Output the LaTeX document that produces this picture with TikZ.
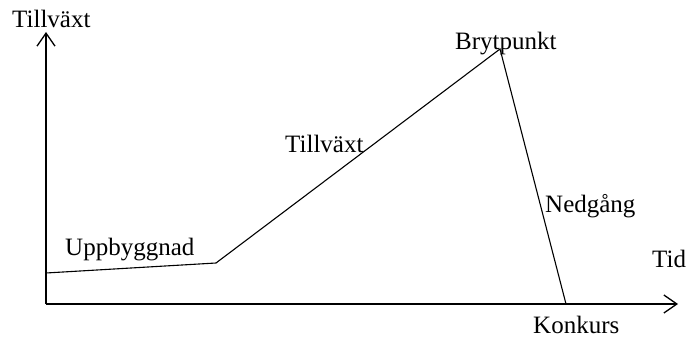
\documentclass[tikz,border=0pt]{standalone}
\usepackage{fontspec}
\setmainfont{Liberation Serif}
\usetikzlibrary{arrows.meta}
\begin{document}
\begin{tikzpicture}[x=1pt,y=-1pt,
  lbl/.style={inner sep=0pt,anchor=base west,font=\fontsize{25}{30}\selectfont},
  axis/.style={line width=1.5pt,-{Straight Barb[length=13pt,width=18pt,line width=1.3pt]}},
  curve/.style={line width=1.1pt}]
\useasboundingbox (0,0) rectangle (690,337);
\coordinate (o) at (46,304);
\coordinate (ytop) at (46,32);
\coordinate (xend) at (678,304);
\coordinate (p0) at (46,273);
\coordinate (p1) at (216,263);
\coordinate (p2) at (500,49);
\coordinate (p3) at (566,304);
\draw[axis] (o) -- (ytop);
\draw[axis] (o) -- (xend);
\draw[curve] (p0) -- (p1) -- (p2) -- (p3);
\node[lbl] (ylab) at (12,28) {Tillväxt};
\node[lbl] (xlab) at (652,267) {Tid};
\node[lbl] (upp) at (65,255) {Uppbyggnad};
\node[lbl] (till) at (285,152) {Tillväxt};
\node[lbl] (bryt) at (455,50) {Brytpunkt};
\node[lbl] (ned) at (545,212) {Nedgång};
\node[lbl] (konk) at (533,333) {Konkurs};
\end{tikzpicture}
\end{document}
